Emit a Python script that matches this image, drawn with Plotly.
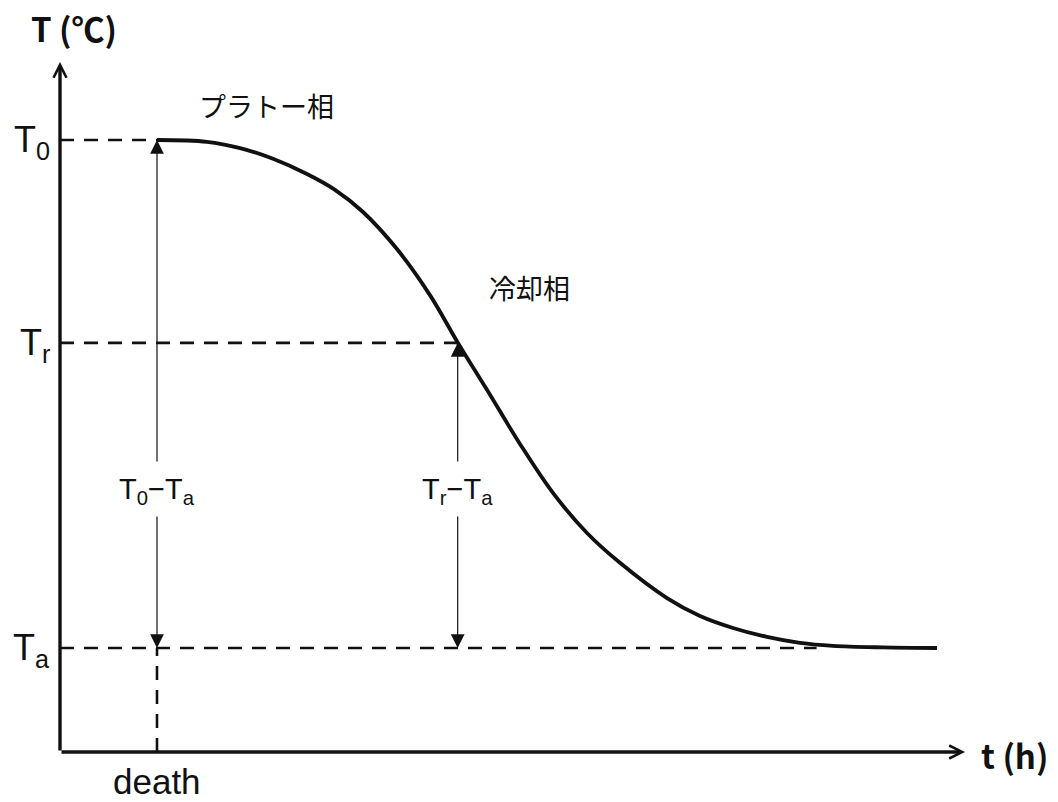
import plotly.graph_objects as go

# cooling curve: hours after death, body temperature
t_curve = [1.000, 1.515, 1.856, 2.196, 2.546, 2.835, 3.124, 3.474, 3.814, 4.103, 4.402, 4.742,
           5.082, 5.433, 5.773, 6.258, 6.598, 6.938, 7.289, 7.629, 7.969, 8.485, 9.041]
T_curve = [37.00, 36.94, 36.73, 36.37, 35.86, 35.33, 34.59, 33.35, 31.81, 30.21, 28.64, 26.83,
           25.19, 23.85, 22.85, 21.67, 21.07, 20.67, 20.37, 20.17, 20.07, 20.02, 20.00]

T0 = 37.0        # temperature at death
Tr = 30.21       # temperature at measurement
Ta = 20.0        # ambient temperature
t_death = 1.0
t_r = 4.10
t_ambient_end = 7.8

x_max = 9.33
y_min = 16.52
y_max = 39.61

BLACK = "#111111"
DASH = "14px,10px"
LATIN = "Liberation Sans, Arial, sans-serif"
CJK = "Noto Sans CJK JP, sans-serif"

fig = go.Figure()

# reference dashed lines
dashed = [
    ([0, t_death], [T0, T0]),
    ([0, t_r], [Tr, Tr]),
    ([0, t_ambient_end], [Ta, Ta]),
    ([t_death, t_death], [y_min, Ta]),
]
for xs, ys in dashed:
    fig.add_trace(go.Scatter(x=xs, y=ys, mode="lines",
                             line=dict(color=BLACK, width=2.6, dash=DASH),
                             hoverinfo="skip", showlegend=False))

fig.add_trace(go.Scatter(x=t_curve, y=T_curve, mode="lines",
                         line=dict(color=BLACK, width=3.8, shape="spline", smoothing=1.0),
                         hoverinfo="skip", showlegend=False))

annotations = []


def arrow(x, y, ax, ay, head, width, size):
    annotations.append(dict(x=x, y=y, ax=ax, ay=ay, xref="x", yref="y", axref="x", ayref="y",
                            text="", showarrow=True, arrowhead=head, arrowwidth=width,
                            arrowsize=size, arrowcolor=BLACK, standoff=0))


# axes with open arrow heads
arrow(x_max, y_min, 0, y_min, 5, 3.4, 0.75)
arrow(0, y_max, 0, y_min, 5, 3.4, 0.75)

# double arrows T0-Ta and Tr-Ta with a gap for the label
gap_top, gap_bottom, gap_mid = 26.19, 24.45, 25.22
for xa, top in [(t_death, T0), (t_r, Tr)]:
    arrow(xa, top, xa, gap_top, 2, 1.2, 2.3)
    arrow(xa, Ta, xa, gap_bottom, 2, 1.2, 2.3)


def label(text, x, y, size, family=LATIN, ref="x", xanchor="center", yanchor="middle",
          xshift=0, yshift=0):
    annotations.append(dict(x=x, y=y, xref=ref if ref == "x" else "paper",
                            yref="y" if ref == "x" else "paper", text=text, showarrow=False,
                            xanchor=xanchor, yanchor=yanchor, xshift=xshift, yshift=yshift,
                            font=dict(family=family, size=size, color=BLACK)))


label("T<sub>0</sub>−T<sub>a</sub>", t_death, gap_mid, 29, yshift=1)
label("T<sub>r</sub>−T<sub>a</sub>", t_r, gap_mid, 29, yshift=1)

label("T<sub>0</sub>", 0, T0, 36, xanchor="right", xshift=-8, yshift=-2)
label("T<sub>r</sub>", 0, Tr, 36, xanchor="right", xshift=-8, yshift=-2)
label("T<sub>a</sub>", 0, Ta, 36, xanchor="right", xshift=-8, yshift=-2)

label("death", t_death, y_min, 35, yanchor="top", yshift=-8)
label("<b>T (℃)</b>", 0.0155, 1.049, 33, family=CJK, ref="paper")
label("<b>t (h)</b>", 1.0547, -0.004, 33, family=CJK, ref="paper")
label("プラトー相", 2.13, 38.17, 27, family=CJK)
label("冷却相", 4.84, 32.08, 27, family=CJK)

fig.update_layout(
    width=1058, height=802,
    margin=dict(l=60, r=93, t=62, b=50),
    paper_bgcolor="white", plot_bgcolor="white",
    xaxis=dict(range=[0, x_max], visible=False, fixedrange=True),
    yaxis=dict(range=[y_min, y_max], visible=False, fixedrange=True),
    annotations=annotations,
    showlegend=False,
)

fig.write_html("out.html", config={"displayModeBar": False},
               post_script="document.body.style.margin='0px';")
